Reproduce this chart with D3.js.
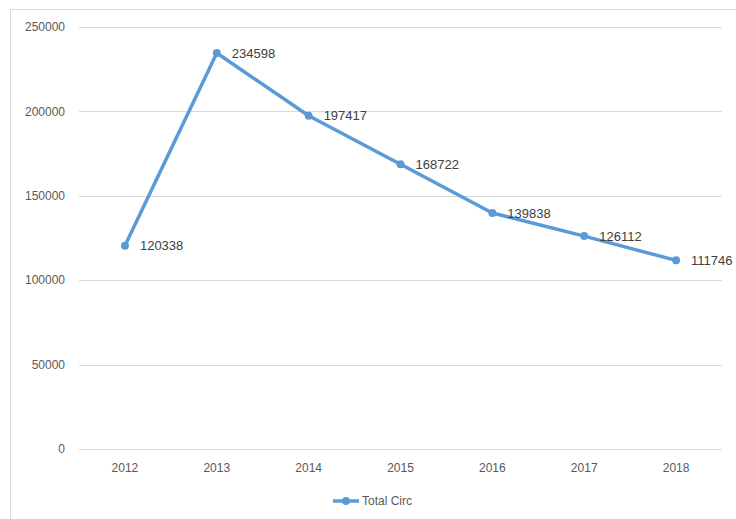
<!DOCTYPE html>
<html>
<head>
<meta charset="utf-8">
<script src="https://cdn.jsdelivr.net/npm/d3@7"></script>
<style>
  body { margin: 0; background: #fff; }
  text { font-family: "Liberation Sans", Arial, sans-serif; fill: #595959; }
</style>
</head>
<body>
<div id="chart"></div>
<script>
  // data
  let years = ["2012", "2013", "2014", "2015", "2016", "2017", "2018"];
  let totalCirc = [120338, 234598, 197417, 168722, 139838, 126112, 111746];
  let yTicks = [0, 50000, 100000, 150000, 200000, 250000];
  let seriesName = "Total Circ";

  let width = 736;
  let height = 519;
  let lineColor = "#5B9BD5";

  let svg = d3.select("#chart").append("svg")
    .attr("width", width)
    .attr("height", height);

  // chart area border
  svg.append("rect")
    .attr("x", 10.5)
    .attr("y", 9.5)
    .attr("width", 740)
    .attr("height", 520)
    .style("fill", "none")
    .style("stroke", "#d9d9d9");

  let x = d3.scaleBand().domain(years).range([79, 722]);
  let y = d3.scaleLinear().domain([0, 250000]).range([449, 27]);

  // gridlines
  svg.append("g")
    .selectAll("line")
    .data(yTicks)
    .enter()
    .append("line")
    .attr("x1", 79)
    .attr("x2", 722)
    .attr("y1", function(d) { return Math.round(y(d)) + 0.5; })
    .attr("y2", function(d) { return Math.round(y(d)) + 0.5; })
    .style("stroke", "#d9d9d9")
    .style("stroke-width", 1);

  // y labels
  svg.append("g")
    .selectAll("text")
    .data(yTicks)
    .enter()
    .append("text")
    .attr("x", 65)
    .attr("y", function(d) { return y(d); })
    .attr("dy", "0.35em")
    .attr("text-anchor", "end")
    .style("font-size", "12px")
    .text(function(d) { return d; });

  // x labels
  svg.append("g")
    .selectAll("text")
    .data(years)
    .enter()
    .append("text")
    .attr("x", function(d) { return x(d) + x.bandwidth() / 2; })
    .attr("y", 472)
    .attr("text-anchor", "middle")
    .style("font-size", "12px")
    .text(function(d) { return d; });

  let pts = years.map(function(d, i) { return { year: d, value: totalCirc[i] }; });

  let line = d3.line()
    .x(function(d) { return x(d.year) + x.bandwidth() / 2; })
    .y(function(d) { return y(d.value); });

  svg.append("path")
    .datum(pts)
    .attr("d", line)
    .style("fill", "none")
    .style("stroke", lineColor)
    .style("stroke-width", 3.5)
    .style("stroke-linejoin", "round");

  svg.append("g")
    .selectAll("circle")
    .data(pts)
    .enter()
    .append("circle")
    .attr("cx", function(d) { return x(d.year) + x.bandwidth() / 2; })
    .attr("cy", function(d) { return y(d.value); })
    .attr("r", 4)
    .style("fill", lineColor);

  // data labels
  svg.append("g")
    .selectAll("text")
    .data(pts)
    .enter()
    .append("text")
    .attr("x", function(d) { return x(d.year) + x.bandwidth() / 2 + 15; })
    .attr("y", function(d) { return y(d.value); })
    .attr("dy", "0.35em")
    .style("font-size", "13px")
    .style("fill", "#404040")
    .text(function(d) { return d.value; });

  // legend
  let legend = svg.append("g").attr("transform", "translate(333,501)");
  legend.append("line")
    .attr("x1", 0).attr("x2", 26)
    .style("stroke", lineColor)
    .style("stroke-width", 3.5);
  legend.append("circle")
    .attr("cx", 13).attr("r", 4)
    .style("fill", lineColor);
  legend.append("text")
    .attr("x", 29)
    .attr("dy", "0.35em")
    .style("font-size", "12px")
    .text(seriesName);
</script>
</body>
</html>
